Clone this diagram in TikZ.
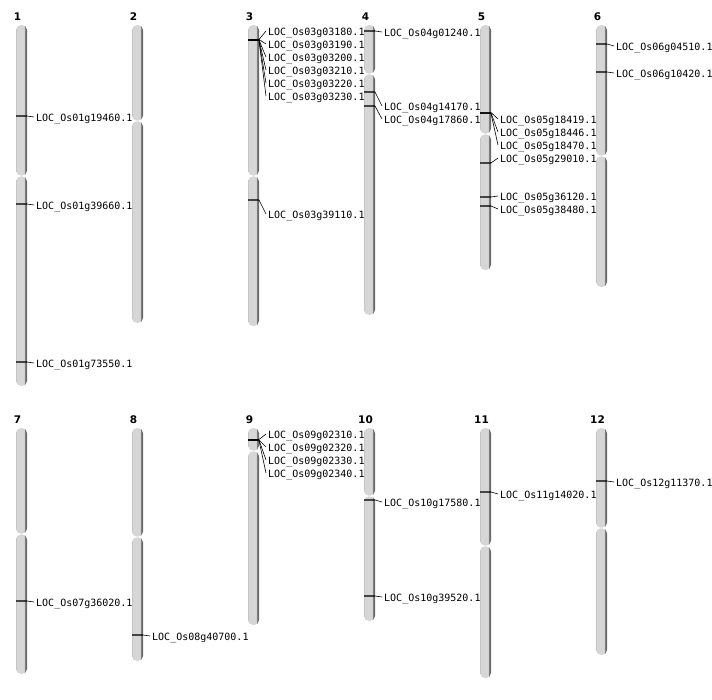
\documentclass[tikz,border=0pt]{standalone}
\usepackage{fontspec}
\setmainfont{DejaVu Sans}
\setsansfont{DejaVu Sans}
\setmonofont{DejaVu Sans Mono}
\definecolor{chL}{HTML}{C4C4C4}
\definecolor{chM}{HTML}{D6D6D6}
\definecolor{chD}{HTML}{6A6A6A}
\pgfdeclarehorizontalshading{chromsh}{100bp}{color(0bp)=(chL); color(25bp)=(chL); color(28bp)=(chM); color(61bp)=(chM); color(67bp)=(chD); color(75bp)=(chD); color(100bp)=(chD)}
\tikzset{
  chromseg/.style={shading=chromsh, rounded corners=5pt},
  markline/.style={draw=black, opacity=0.68, line width=1.2pt},
  connline/.style={draw=black, line width=0.6pt},
  genelbl/.style={anchor=west, inner xsep=2pt, inner ysep=0pt, text height=9.1pt, text depth=0pt,
    font=\ttfamily\fontsize{10}{12}\selectfont, text=black},
  chrnum/.style={inner sep=0pt, font=\sffamily\bfseries\fontsize{10.5}{12}\selectfont}
}
\newcommand\mychrom[6]{% name, x, top, cen, bottom, label
  \shade[chromseg] (#2,#3) rectangle (#2+11,#4-0.3);
  \shade[chromseg] (#2,#4+0.3) rectangle (#2+11,#5);
  \node[chrnum] (#1) at (#2+1.5,#3-8) {#6};
}
\newcommand\mygene[5]{% name, x, marker y, label y, text
  \coordinate (#1-a) at (#2,#3);
  \coordinate (#1-b) at (#2+11,#3);
  \draw[markline] (#1-a) -- (#1-b);
  \node[genelbl] (#1) at (#2+18,#4) {#5};
  \draw[connline] (#1-b) -- (#1.west);
}
\begin{document}
\begin{tikzpicture}[x=1pt,y=-1pt]
\useasboundingbox (0,0) rectangle (712,700);
% row 1
\mychrom{c1}{16}{25}{176}{386}{1}
\mychrom{c2}{132}{25}{121}{323}{2}
\mychrom{c3}{248}{25}{176}{326}{3}
\mychrom{c4}{364}{25}{74}{315}{4}
\mychrom{c5}{480}{25}{134}{270}{5}
\mychrom{c6}{596}{25}{156}{287}{6}
% row 2
\mychrom{c7}{16}{428}{534}{674}{7}
\mychrom{c8}{132}{428}{537}{661}{8}
\mychrom{c9}{248}{428}{451}{625}{9}
\mychrom{c10}{364}{428}{496}{621}{10}
\mychrom{c11}{480}{428}{546}{678}{11}
\mychrom{c12}{596}{428}{528}{655}{12}
% genes chr1
\mygene{g1a}{16}{116}{117}{LOC\_Os01g19460.1}
\mygene{g1b}{16}{204}{205}{LOC\_Os01g39660.1}
\mygene{g1c}{16}{362}{363}{LOC\_Os01g73550.1}
% chr3
\mygene{g3a}{248}{39.5}{31}{LOC\_Os03g03180.1}
\mygene{g3b}{248}{39.5}{44}{LOC\_Os03g03190.1}
\mygene{g3c}{248}{40}{57}{LOC\_Os03g03200.1}
\mygene{g3d}{248}{40}{70}{LOC\_Os03g03210.1}
\mygene{g3e}{248}{40.5}{83}{LOC\_Os03g03220.1}
\mygene{g3f}{248}{40.5}{96}{LOC\_Os03g03230.1}
\mygene{g3g}{248}{200}{214}{LOC\_Os03g39110.1}
% chr4
\mygene{g4a}{364}{31}{32}{LOC\_Os04g01240.1}
\mygene{g4b}{364}{92}{106}{LOC\_Os04g14170.1}
\mygene{g4c}{364}{106}{119}{LOC\_Os04g17860.1}
% chr5
\mygene{g5a}{480}{112.5}{119}{LOC\_Os05g18419.1}
\mygene{g5b}{480}{113}{132}{LOC\_Os05g18446.1}
\mygene{g5c}{480}{113.5}{145}{LOC\_Os05g18470.1}
\mygene{g5d}{480}{163}{158}{LOC\_Os05g29010.1}
\mygene{g5e}{480}{197}{196}{LOC\_Os05g36120.1}
\mygene{g5f}{480}{206}{209}{LOC\_Os05g38480.1}
% chr6
\mygene{g6a}{596}{44}{46}{LOC\_Os06g04510.1}
\mygene{g6b}{596}{72}{73}{LOC\_Os06g10420.1}
% chr7
\mygene{g7a}{16}{601}{602}{LOC\_Os07g36020.1}
% chr8
\mygene{g8a}{132}{635}{636}{LOC\_Os08g40700.1}
% chr9
\mygene{g9a}{248}{439.5}{434}{LOC\_Os09g02310.1}
\mygene{g9b}{248}{440}{447}{LOC\_Os09g02320.1}
\mygene{g9c}{248}{440}{460}{LOC\_Os09g02330.1}
\mygene{g9d}{248}{440.5}{473}{LOC\_Os09g02340.1}
% chr10
\mygene{g10a}{364}{500}{502}{LOC\_Os10g17580.1}
\mygene{g10b}{364}{596}{597}{LOC\_Os10g39520.1}
% chr11
\mygene{g11a}{480}{492}{494}{LOC\_Os11g14020.1}
% chr12
\mygene{g12a}{596}{481}{482}{LOC\_Os12g11370.1}
\end{tikzpicture}
\end{document}
